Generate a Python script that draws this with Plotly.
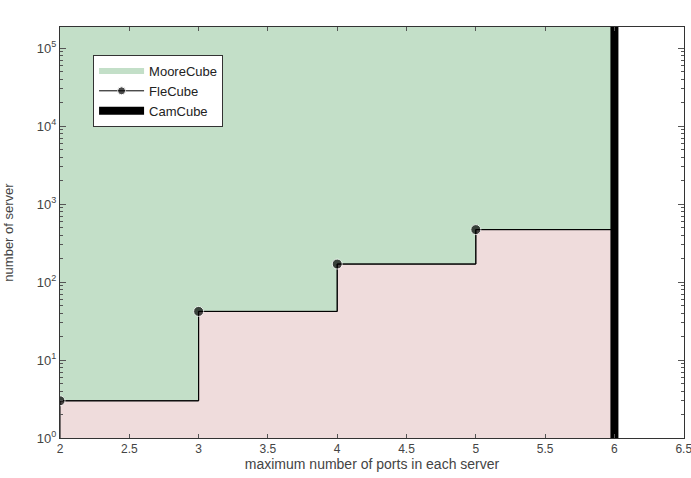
import plotly.graph_objects as go

ports = [2, 3, 4, 5]
flecube = [3, 42, 170, 470]
x_end = 6
moorecube_top = 186000
x_range = [2, 6.502]
x_ticks = [2, 2.5, 3, 3.5, 4, 4.5, 5, 5.5, 6, 6.5]
y_tick_exp = [0, 1, 2, 3, 4, 5]

# step outline from data
step_x = [ports[0]]
step_y = [1]
for i, (p, v) in enumerate(zip(ports, flecube)):
    nxt = ports[i + 1] if i + 1 < len(ports) else x_end
    step_x += [p, nxt]
    step_y += [v, v]
step_x += [x_end]
step_y += [1]

fig = go.Figure()
# MooreCube area
fig.add_trace(go.Scatter(
    x=[ports[0], x_end, x_end, ports[0], ports[0]],
    y=[1, 1, moorecube_top, moorecube_top, 1],
    fill="toself", fillcolor="#c3dfc8", mode="none",
    name="MooreCube"))
# FleCube area (below step)
fig.add_trace(go.Scatter(
    x=step_x, y=step_y, fill="toself", fillcolor="#efdcdc", mode="lines",
    line=dict(color="black", width=1), showlegend=False, hoverinfo="skip"))
# FleCube line + markers
fig.add_trace(go.Scatter(
    x=ports + [x_end], y=flecube + [flecube[-1]], mode="lines+markers",
    line=dict(color="black", width=1, shape="hv"),
    marker=dict(color="black", size=[10, 10, 10, 10, 0]), name="FleCube"))
# CamCube
fig.add_trace(go.Scatter(
    x=[x_end, x_end], y=[0.9, moorecube_top * 1.2], mode="lines",
    line=dict(color="black", width=8), name="CamCube"))

minor_vals = [k * 10 ** e for e in range(0, 6) for k in range(2, 10)]

fig.update_layout(
    width=691, height=478,
    margin=dict(l=60, r=7, t=27, b=40),
    paper_bgcolor="white", plot_bgcolor="white",
    font=dict(family="Liberation Sans, Arial, sans-serif", size=13, color="#444"),
    legend=dict(x=0.053, y=0.932, xanchor="left", yanchor="top",
                bgcolor="white", bordercolor="#333", borderwidth=1,
                font=dict(size=13, color="#222"), tracegroupgap=0,
                itemwidth=45),
    showlegend=True,
)
fig.update_xaxes(
    range=x_range, tickvals=x_ticks, ticktext=[f"{t:g}" for t in x_ticks],
    showgrid=False, zeroline=False, showline=True, linecolor="#333", linewidth=1,
    mirror="allticks", ticks="inside", ticklen=4, tickcolor="#555",
    tickfont=dict(size=12), ticklabeloverflow="allow", automargin=False,
    title=dict(text="maximum number of ports in each server", standoff=2, font=dict(size=14)),
)
fig.update_yaxes(
    type="log", range=[0, 5.27],
    tickvals=[10 ** e for e in y_tick_exp],
    ticktext=[f"10<sup>{e}</sup>" for e in y_tick_exp],
    minor=dict(tickvals=minor_vals, ticks="inside", ticklen=3, tickcolor="#555"),
    showgrid=False, zeroline=False, showline=True, linecolor="#333", linewidth=1,
    mirror="allticks", ticks="inside", ticklen=6, tickcolor="#555",
    tickfont=dict(size=13), automargin=False,
    title=dict(text="number of server", standoff=20, font=dict(size=13)),
)

fig.write_html("out.html")
